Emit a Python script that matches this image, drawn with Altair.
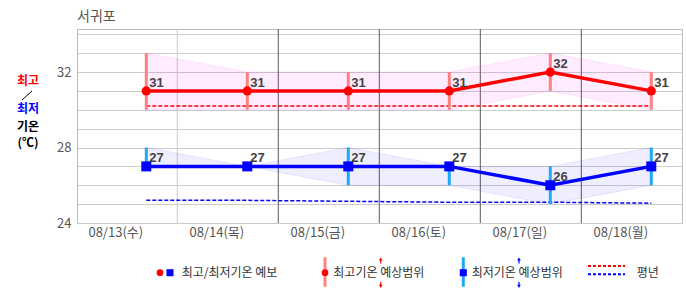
import json
import altair as alt
import pandas as pd

# ---- data ----
dates = ["08/13(수)", "08/14(목)", "08/15(금)", "08/16(토)", "08/17(일)", "08/18(월)"]
tmax = [31, 31, 31, 31, 32, 31]
tmax_hi = [33, 32, 32, 32, 33, 32]
tmax_lo = [30, 30, 30, 30, 31, 30]
tmin = [27, 27, 27, 27, 26, 27]
tmin_hi = [28, 27, 28, 27, 27, 28]
tmin_lo = [27, 27, 26, 26, 25, 26]
normal_max = [30.2, 30.2, 30.2, 30.2, 30.2, 30.2]
normal_min = [25.2, 25.2, 25.15, 25.1, 25.1, 25.05]
y_ticks = [24, 25, 26, 27, 28, 29, 30, 31, 32, 33, 34]
title_text = "서귀포"

FONT = "Noto Sans CJK KR"
NUMFONT = "Liberation Sans"

df = pd.DataFrame({
    "i": list(range(len(dates))), "date": dates,
    "tmax": tmax, "tmax_hi": tmax_hi, "tmax_lo": tmax_lo,
    "tmin": tmin, "tmin_hi": tmin_hi, "tmin_lo": tmin_lo,
    "nmax": normal_max, "nmin": normal_min,
})
one = pd.DataFrame({"k": [0]})

W, H = 605, 194
OFF = 0.307
xs = alt.Scale(domain=[-0.686, 5.304], nice=False, zero=False)
ys = alt.Scale(domain=[24, 34.28], nice=False, zero=False)

label_expr = json.dumps(dates, ensure_ascii=False) + "[round(datum.value + %s)]" % OFF
x_axis = alt.Axis(values=[round(i - OFF, 3) for i in range(len(dates))], labelExpr=label_expr,
                  grid=False, ticks=False, domain=False, labelFont=FONT, labelFontSize=13,
                  labelColor="#555555", labelPadding=3, labelOverlap=False, labelFlush=False,
                  labelBound=False, title=None)
y_axis = alt.Axis(values=y_ticks, labelExpr="datum.value % 4 == 0 ? datum.label : ''",
                  grid=True, gridColor="#cccccc", gridWidth=1, ticks=False, domain=True,
                  domainColor="#bbbbbb", labelFont=FONT, labelFontSize=13, labelColor="#555555",
                  labelPadding=6, title=None)


def X(field="i"):
    return alt.X(f"{field}:Q", scale=xs, axis=x_axis, title=None)


def Y(field):
    return alt.Y(f"{field}:Q", scale=ys, axis=y_axis, title=None)


base = alt.Chart(df)

vgrid = base.transform_filter(f"datum.i < {len(dates) - 1}").transform_calculate(
    xg=f"datum.i + {OFF}").mark_rule(strokeWidth=1).encode(
    x=X("xg"), y=alt.value(0), y2=alt.value(H),
    color=alt.condition("datum.i == 0", alt.value("#c8c8c8"), alt.value("#5a5a5a")))

band_hi = base.mark_area(fill="#FF00FF", fillOpacity=0.07, stroke="#FF00FF",
                         strokeOpacity=0.1, strokeWidth=1).encode(
    x=X(), y=Y("tmax_lo"), y2=alt.Y2("tmax_hi"))
band_lo = base.mark_area(fill="#0000FF", fillOpacity=0.065, stroke="#0000FF",
                         strokeOpacity=0.08, strokeWidth=1).encode(
    x=X(), y=Y("tmin_lo"), y2=alt.Y2("tmin_hi"))

norm_hi = base.mark_line(color="#FF0000", strokeWidth=1.5, strokeDash=[4, 2]).encode(
    x=X(), y=Y("nmax"))
norm_lo = base.mark_line(color="#0000FF", strokeWidth=1.5, strokeDash=[4, 2]).encode(
    x=X(), y=Y("nmin"))

rng_hi = base.mark_rule(color="#FF8080", strokeWidth=3).encode(
    x=X(), y=Y("tmax_lo"), y2=alt.Y2("tmax_hi"))
rng_lo = base.mark_rule(color="#1EAAF0", strokeWidth=3).encode(
    x=X(), y=Y("tmin_lo"), y2=alt.Y2("tmin_hi"))

line_hi = base.mark_line(color="#FF0000", strokeWidth=3.5).encode(x=X(), y=Y("tmax"))
line_lo = base.mark_line(color="#0000FF", strokeWidth=3.5).encode(x=X(), y=Y("tmin"))
pt_hi = base.mark_point(shape="circle", filled=True, opacity=1, size=85, color="#FF0000").encode(
    x=X(), y=Y("tmax"))
pt_lo = base.mark_point(shape="square", filled=True, opacity=1, size=100, color="#0000FF").encode(
    x=X(), y=Y("tmin"))

txt_hi = base.mark_text(align="left", baseline="middle", dx=3, dy=-8, font=NUMFONT, fontSize=13,
                        fontWeight="bold", color="#444444").encode(
    x=X(), y=Y("tmax"), text="tmax:Q")
txt_lo = base.mark_text(align="left", baseline="middle", dx=3, dy=-8, font=NUMFONT, fontSize=13,
                        fontWeight="bold", color="#444444").encode(
    x=X(), y=Y("tmin"), text="tmin:Q")


def T(s, x, y, color="#333333", size=12, weight="normal", align="left"):
    return alt.Chart(one).mark_text(text=s, align=align, baseline="middle", font=FONT,
                                    fontSize=size, fontWeight=weight, color=color).encode(
        x=alt.value(x), y=alt.value(y))


def R(x1, y1, x2, y2, color, w, dash=None):
    kw = dict(color=color, strokeWidth=w)
    if dash:
        kw["strokeDash"] = dash
    return alt.Chart(one).mark_rule(**kw).encode(
        x=alt.value(x1), y=alt.value(y1), x2=alt.value(x2), y2=alt.value(y2))


def P(x, y, shape, color, size):
    return alt.Chart(one).mark_point(shape=shape, filled=True, opacity=1, color=color,
                                     size=size).encode(x=alt.value(x), y=alt.value(y))


extras = [
    T(title_text, 0, -12.5, color="#555555", size=14),
    # y-axis title
    T("최고", -49, 52, color="#FF0000", weight="bold", align="center"),
    R(-55, 71, -45, 62, "#000000", 1),
    T("최저", -49, 80, color="#0000FF", weight="bold", align="center"),
    T("기온", -49, 97.5, color="#000000", weight="bold", align="center"),
    T("(℃)", -49, 114, color="#000000", weight="bold", align="center"),
    # legend 1
    P(83, 243.7, "circle", "#FF0000", 45),
    P(93, 243.7, "square", "#0000FF", 50),
    T("최고/최저기온 예보", 104.7, 243.5),
    # legend 2
    R(248, 228.3, 248, 257.7, "#FF8080", 3),
    P(248, 243.7, "circle", "#FF0000", 45),
    T("최고기온 예상범위", 256.3, 243.5),
    R(303.7, 230, 303.7, 234.5, "#FF0000", 1.2),
    P(303.7, 230, "triangle-up", "#FF0000", 14),
    R(303.7, 253, 303.7, 257, "#FF0000", 1.2),
    P(303.7, 257.3, "triangle-down", "#FF0000", 14),
    # legend 3
    R(386.3, 228.3, 386.3, 257.7, "#1EAAF0", 3),
    P(386.3, 243.7, "square", "#0000FF", 50),
    T("최저기온 예상범위", 394.7, 243.5),
    R(442, 230, 442, 234.5, "#0000FF", 1.2),
    P(442, 230, "triangle-up", "#0000FF", 14),
    R(442, 253, 442, 257, "#0000FF", 1.2),
    P(442, 257.3, "triangle-down", "#0000FF", 14),
    # legend 4
    R(511, 237, 548, 237, "#FF0000", 2, [3, 2]),
    R(511, 245.3, 548, 245.3, "#0000FF", 2, [3, 2]),
    T("평년", 559.7, 243.5),
]

chart = alt.layer(
    vgrid, band_hi, band_lo, norm_hi, norm_lo, rng_hi, rng_lo,
    line_hi, line_lo, pt_hi, pt_lo, txt_hi, txt_lo, *extras
).properties(
    width=W, height=H, autosize="none",
    padding={"left": 77, "top": 29, "right": 4, "bottom": 72},
    background="white",
).configure_view(stroke="#bbbbbb", strokeWidth=1)

chart.save("out.html", embed_options={"renderer": "svg", "actions": False})
